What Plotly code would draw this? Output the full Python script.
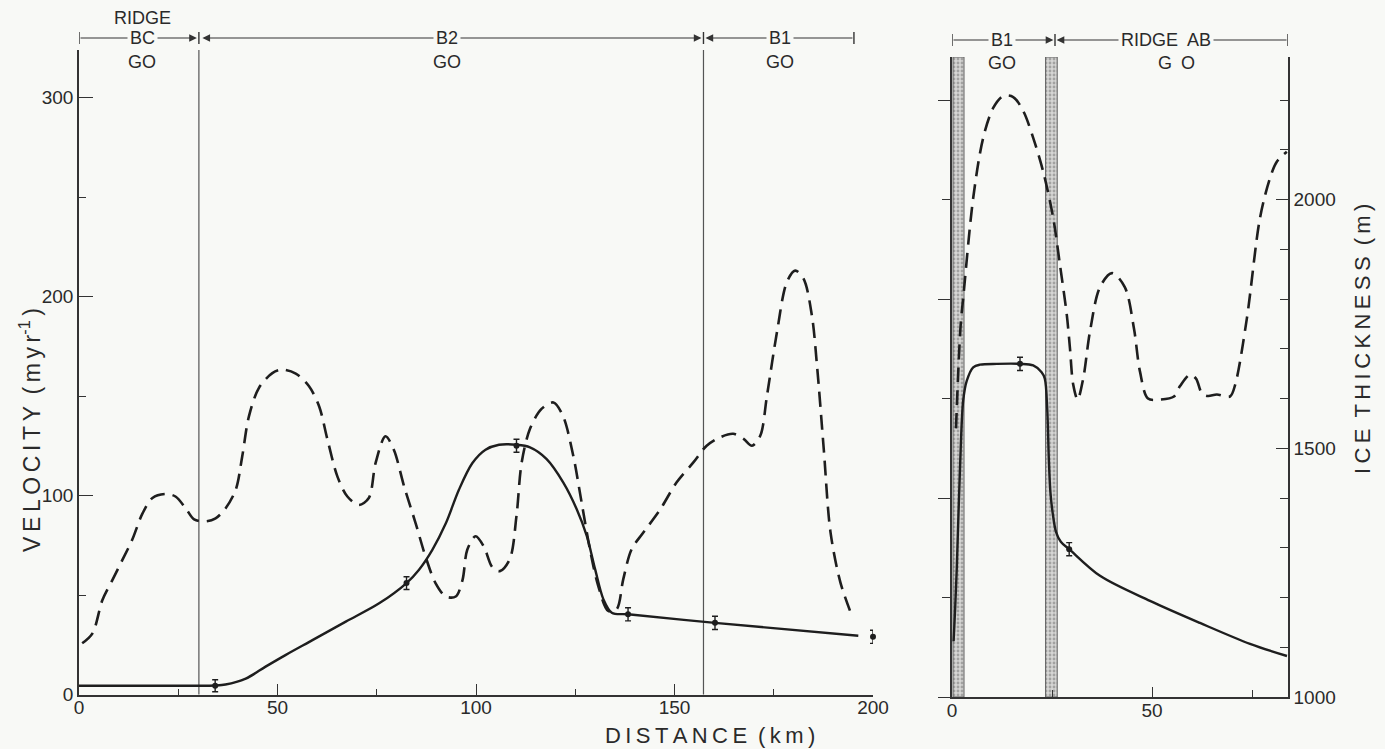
import plotly.graph_objects as go

W, H = 1385, 749
BG = "#f8f9f6"
INK = "#1e1e1e"
AX = "#333333"
TXT = "#2a2a2a"
FONT = "Liberation Sans, Arial, sans-serif"

# ---------------- data ----------------
# Left panel: ridge BC / B2 / B1, distance (km)
vel_left_km = [0, 32.7, 34.3, 36.9, 42, 47, 52, 58.8, 67.2, 75.6, 82.5, 85.6, 89, 92.4, 95.7,
               99.1, 102.4, 105.8, 110.2, 113.6, 117.8, 122, 125.4, 127.9, 130, 132.1, 134.2,
               138.3, 160.2, 196.3]
vel_left = [4.4, 4.4, 4.5, 5, 8, 14, 19.8, 27.3, 36.6, 45.8, 56, 62.6, 72.7, 86, 102.9,
            116.3, 123, 125.5, 125.5, 124.2, 118.3, 106.5, 93, 79.7, 63, 47.8, 41.1,
            40.3, 36, 29.5]

thk_left_km = [0.8, 3.4, 5.9, 8.4, 10.9, 13.4, 16.0, 18.5, 21.8, 24.3, 26.9, 29.0, 31.9, 34.4,
               36.9, 39.5, 41.1, 42.8, 45.3, 48.7, 51.2, 54.6, 57.9, 60.5, 62.6, 65.1, 67.6,
               70.5, 73.0, 74.7, 77.2, 79.3, 81.9, 84.8, 87.3, 89.8, 92.4, 94.9, 96.6, 97.8,
               99.9, 102.0, 104.1, 106.0, 108.5, 110.2, 111.5, 113.6, 116.5, 119.5, 121.9,
               124.5, 126.6, 128.7, 130.8, 133.3, 135.4, 137.1, 139.2, 142.2, 146.4, 150.5,
               154.7, 158.1, 161.5, 164.8, 167.4, 169.5, 171.6, 173.3, 175.8, 178.3, 180.4,
               182.5, 184.6, 185.9, 187.6, 189.3, 191.8, 194.7]
thk_left = [1103, 1123, 1190, 1230, 1270, 1311, 1364, 1395, 1403, 1398, 1374, 1352, 1348, 1354,
            1374, 1412, 1478, 1559, 1616, 1646, 1653, 1645, 1620, 1579, 1512, 1438, 1398,
            1381, 1395, 1465, 1519, 1492, 1418, 1344, 1277, 1224, 1197, 1197, 1230, 1291,
            1318, 1297, 1256, 1248, 1272, 1359, 1466, 1534, 1574, 1587, 1560,
            1480, 1386, 1292, 1218, 1168, 1171, 1232, 1292, 1326, 1372, 1426,
            1466, 1500, 1517, 1524, 1514, 1500, 1520, 1601, 1728, 1829, 1852,
            1836, 1762, 1661, 1493, 1326, 1225, 1158]

obs_left_km = [34.3, 82.5, 110.2, 138.3, 160.2, 200.0]
obs_left_vel = [4.4, 56.0, 125.0, 40.3, 36.0, 29.0]
obs_left_err = [3.0, 3.2, 3.3, 3.3, 3.3, 3.3]

# Right panel: B1 / ridge AB
vel_right_km = [0.4, 0.8, 1.2, 2.0, 2.8, 3.7, 5.3, 7.0, 11.2, 17.0, 20.3, 22.4, 23.2, 23.8,
                24.2, 24.6, 25.2, 26.0, 27.2, 29.3, 37.0, 49.5, 62.0, 74.5, 83.75]
vel_right = [28, 45, 65, 115, 149, 159, 165.7, 167, 167.4, 167.4, 166.6, 163.2, 160, 145,
             120, 103, 92, 83, 78, 74.3, 60.9, 48.3, 37.2, 26.7, 20.6]

thk_right_km = [1.0, 1.6, 2.2, 2.8, 5.3, 7.8, 10.3, 12.8, 15.3, 17.8, 20.3, 22.8, 25.3, 27.0,
                28.7, 29.5, 30.3, 31.4, 32.8, 34.5, 37.0, 40.0, 43.2, 45.5, 47.0, 49.0, 52.0,
                55.5, 57.0, 59.5, 61.0, 62.5, 64.0, 66.2, 69.5, 70.8, 73.7, 77.0, 79.5, 81.2,
                83.7]
thk_right = [1540, 1660, 1752, 1802, 2003, 2124, 2184, 2208, 2206, 2178, 2124, 2056, 1963, 1868,
             1768, 1700, 1628, 1598, 1640, 1735, 1824, 1852, 1824, 1740, 1654, 1600, 1598,
             1604, 1625, 1648, 1640, 1610, 1605, 1608, 1604, 1628, 1760, 1963, 2043, 2076,
             2096]

obs_right_km = [17.0, 29.3]
obs_right_vel = [167.4, 74.3]
obs_right_err = [3.3, 3.3]

# shear margins (stippled bands) in right panel, km
shear_x0 = [0.25, 23.4]
shear_x1 = [3.0, 26.3]

# zone brackets
left_bounds = [0, 30.2, 157.3, 195.2]
left_top = ["BC", "B2", "B1"]
left_label_km = [15.9, 92.7, 176.6]
right_bounds = [0, 25.75, 84]
right_top = ["B1", "RIDGE\u2002AB"]
right_label_km = [12.5, 53.5]
right_go_km = [12.5, 56.0]

x_ticks_left = [0, 50, 100, 150, 200]
vel_ticks = [0, 100, 200, 300]
x_ticks_right = [0, 50]
thk_ticks = [1000, 1500, 2000]

# ---------------- layout geometry ----------------
def px(x):
    return x / W

def py(y):
    return (H - y) / H

L_DOM = [px(79), px(873)]
R_DOM = [px(952), px(1288)]
YL_DOM = [py(694.5), py(50)]
YR_DOM = [py(697), py(57)]
VL_TOP = (694.5 - 50) / 1.99
VR_TOP = (697 - 57) / 1.99

fig = go.Figure()

# stippled shear bands
fig.add_trace(go.Bar(
    x=[(a + b) / 2 for a, b in zip(shear_x0, shear_x1)],
    y=[VR_TOP] * len(shear_x0),
    width=[b - a for a, b in zip(shear_x0, shear_x1)],
    base=0,
    xaxis="x2", yaxis="y2",
    marker=dict(color="#d0d0ce",
                line=dict(color="#5e5e5e", width=1),
                pattern=dict(shape=".", fgcolor="#6e6e6e", bgcolor="#d6d6d4",
                             size=4, solidity=0.4)),
    showlegend=False, hoverinfo="skip"))

line_solid = dict(color=INK, width=2.4, shape="spline", smoothing=0.9)
line_dash = dict(color=INK, width=2.6, shape="spline", smoothing=0.9, dash="15px,8px")

fig.add_trace(go.Scatter(x=thk_left_km, y=thk_left, mode="lines", line=line_dash,
                         xaxis="x", yaxis="y5", showlegend=False))
fig.add_trace(go.Scatter(x=vel_left_km, y=vel_left, mode="lines", line=line_solid,
                         xaxis="x", yaxis="y", showlegend=False))
fig.add_trace(go.Scatter(x=obs_left_km, y=obs_left_vel, mode="markers",
                         marker=dict(color=INK, size=6),
                         error_y=dict(type="data", array=obs_left_err, color=INK,
                                      thickness=1.4, width=3),
                         xaxis="x", yaxis="y", showlegend=False, cliponaxis=False))

fig.add_trace(go.Scatter(x=thk_right_km, y=thk_right, mode="lines", line=line_dash,
                         xaxis="x2", yaxis="y4", showlegend=False))
fig.add_trace(go.Scatter(x=vel_right_km, y=vel_right, mode="lines", line=line_solid,
                         xaxis="x2", yaxis="y2", showlegend=False))
fig.add_trace(go.Scatter(x=obs_right_km, y=obs_right_vel, mode="markers",
                         marker=dict(color=INK, size=6),
                         error_y=dict(type="data", array=obs_right_err, color=INK,
                                      thickness=1.4, width=3),
                         xaxis="x2", yaxis="y2", showlegend=False))

tickfont = dict(family=FONT, size=19, color=TXT)
common = dict(showgrid=False, zeroline=False, linecolor=AX, linewidth=1.5,
              tickcolor=AX, tickwidth=1.4, tickfont=tickfont, automargin=False)

layout = dict(
    width=W, height=H, margin=dict(l=0, r=0, t=0, b=0, autoexpand=False),
    paper_bgcolor=BG, plot_bgcolor="rgba(0,0,0,0)",
    font=dict(family=FONT, color=TXT),
    showlegend=False,
    xaxis=dict(domain=L_DOM, range=[0, 200], anchor="y", showline=True,
               ticks="inside", ticklen=11, tickvals=x_ticks_left, ticklabelstandoff=-5,
               minor=dict(dtick=25, tick0=0, ticks="inside", ticklen=6,
                          tickcolor=AX, tickwidth=1.4), **common),
    yaxis=dict(domain=YL_DOM, range=[0, VL_TOP], anchor="x", showline=True,
               ticks="inside", ticklen=14, tickvals=vel_ticks,
               minor=dict(dtick=50, tick0=0, ticks="inside", ticklen=7,
                          tickcolor=AX, tickwidth=1.4), **common),
    yaxis3=dict(domain=YL_DOM, range=[0, VL_TOP], overlaying="y", anchor="free",
                position=px(853), side="right", showline=True, showticklabels=False,
                ticks="inside", ticklen=8, dtick=25, tick0=0, **common),
    yaxis5=dict(range=[1000, 1000 + 4 * VL_TOP], overlaying="y", visible=False),
    xaxis2=dict(domain=R_DOM, range=[0, 84], anchor="y2", showline=True,
                ticks="inside", ticklen=10, tickvals=x_ticks_right, ticklabelstandoff=-5,
                minor=dict(dtick=25, tick0=0, ticks="inside", ticklen=7,
                           tickcolor=AX, tickwidth=1.4), **common),
    yaxis2=dict(domain=YR_DOM, range=[0, VR_TOP], anchor="x2", showline=True,
                showticklabels=False, ticks="outside", ticklen=12, dtick=100, tick0=0,
                minor=dict(dtick=50, tick0=0, ticks="outside", ticklen=8,
                           tickcolor=AX, tickwidth=1.4), **common),
    yaxis4=dict(range=[1000, 1000 + 4 * VR_TOP], overlaying="y2", anchor="x2",
                side="right", showline=True, ticks="inside", ticklen=12,
                tickvals=thk_ticks,
                minor=dict(dtick=100, tick0=1000, ticks="inside", ticklen=8,
                           tickcolor=AX, tickwidth=1.4), **common),
)
fig.update_layout(**layout)

shapes = []
annotations = []

# vertical zone divider lines in left panel
for b in left_bounds[1:3]:
    shapes.append(dict(type="line", xref="x", yref="paper", x0=b, x1=b,
                       y0=YL_DOM[0], y1=YL_DOM[1], line=dict(color="#555555", width=1.2),
                       layer="below"))

def label(x, y, text, xref="paper", size=18, angle=0):
    return dict(x=x, y=y, xref=xref, yref="paper", text=text, showarrow=False,
                xanchor="center", yanchor="middle", textangle=angle,
                font=dict(family=FONT, size=size, color=TXT))

def bracket(xref, bounds, yv, tops, top_km, off):
    for b in bounds:
        shapes.append(dict(type="line", xref=xref, yref="paper", x0=b, x1=b,
                           y0=yv - 6 / H, y1=yv + 6 / H, line=dict(color=AX, width=1.4)))
    n = len(bounds) - 1
    for i in range(n):
        a, b = bounds[i], bounds[i + 1]
        first = i == 0
        last = i == n - 1
        if first:
            side, head, tail = "end", b - off, a
        elif last:
            side, head, tail = "end", a + off, b
        else:
            side, head, tail = "end+start", b - off, a + off
        annotations.append(dict(x=head, y=yv, xref=xref, yref="paper",
                                ax=tail, ay=0, axref=xref, ayref="pixel",
                                text="", showarrow=True, arrowside=side,
                                arrowhead=2, startarrowhead=2, arrowsize=1.4,
                                startarrowsize=1.4, arrowwidth=1.1, arrowcolor=AX))
    for t, k in zip(tops, top_km):
        d = label(k, yv, t, xref=xref)
        d.update(bgcolor=BG, borderpad=2)
        annotations.append(d)

bracket("x", left_bounds, py(38), left_top, left_label_km, 0.5)
bracket("x2", right_bounds, py(40), right_top, right_label_km, 0.4)

for k in left_label_km:
    annotations.append(label(k, py(62), "GO", xref="x"))
for t, k in zip(["GO", "G\u2002O"], right_go_km):
    annotations.append(label(k, py(63), t, xref="x2"))
annotations.append(label(left_label_km[0], py(18), "RIDGE", xref="x"))

def spaced(s):
    return "\u2009".join(list(s))

annotations.append(label(px(30), py(430),
                         spaced("VELOCITY") + "\u2002(\u2009m\u2009y\u2009r<sup>-1</sup>\u2009)",
                         size=23, angle=-90))
annotations.append(label(px(710), py(735),
                         spaced("DISTANCE") + "\u2002(\u2009k\u2009m\u2009)", size=22))
annotations.append(label(px(1362), py(339),
                         spaced("ICE") + "\u2002" + spaced("THICKNESS") + "\u2002(\u2009m\u2009)",
                         size=22, angle=-90))

fig.update_layout(shapes=shapes, annotations=annotations)
fig.write_html("out.html",
               config={"displayModeBar": False},
               post_script="document.body.style.margin='0';document.body.style.padding='0';"
                           "document.body.style.overflow='hidden';"
                           "document.documentElement.style.overflow='hidden';")
